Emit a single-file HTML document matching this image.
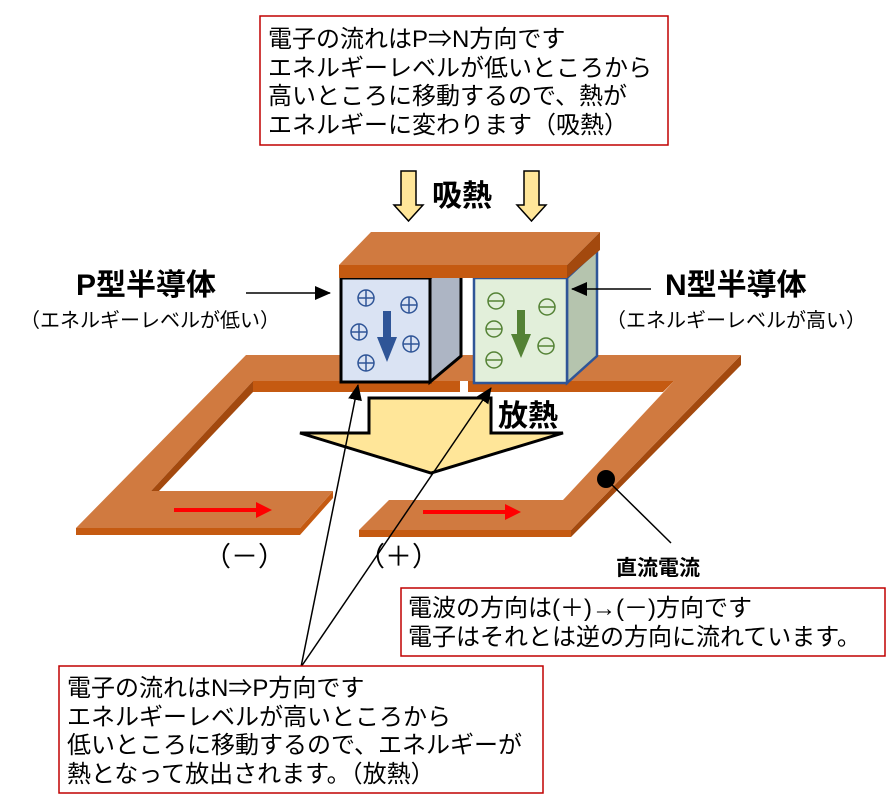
<!DOCTYPE html>
<html><head><meta charset="utf-8"><style>
body{margin:0;background:#fff;}
svg{display:block;}
text{font-family:"Liberation Sans","Noto Sans CJK JP",sans-serif;}
</style></head><body>
<svg width="892" height="808" viewBox="0 0 892 808" xmlns="http://www.w3.org/2000/svg">
<defs>
<marker id="ahb" markerWidth="16" markerHeight="14" refX="15" refY="7" orient="auto" markerUnits="userSpaceOnUse">
<path d="M0,0 L16,7 L0,14 z" fill="#000"/></marker>
</defs>
<!-- left frame -->
<polygon points="76,528 76,535 300,535 333,498 333,491 300,528" fill="#C55A11"/>
<polygon points="246,355 460,355 460,381 253,381 151,491 333,491 300,528 76,528" fill="#D07A40"/>
<polygon points="253,381 460,381 460,392 253,392" fill="#C55A11"/>
<polygon points="253,381 253,392 159,491 151,491" fill="#A3490E"/>
<!-- right frame -->
<polygon points="741,355 741,365 571,537 571,530" fill="#A3490E"/>
<polygon points="359,530 571,530 571,537 359,537" fill="#C55A11"/>
<polygon points="460,355 741,355 571,530 359,530 389,500 563,500 674,381 460,381" fill="#D07A40"/>
<polygon points="468,381 674,381 663,392 468,392" fill="#C55A11"/>
<!-- P block -->
<polygon points="430,278 461,250 461,356 430,382" fill="#ADB5C4" stroke="#000" stroke-width="3"/>
<rect x="341" y="278" width="89" height="104" fill="#DAE3F3" stroke="#000" stroke-width="3"/>
<!-- N block -->
<polygon points="567,278 597,250 597,356 567,383" fill="#B5C4AE" stroke="#2F5597" stroke-width="2.5"/>
<rect x="474" y="278" width="93" height="105" fill="#E2EFDA" stroke="#2F5597" stroke-width="2.5"/>
<!-- top plate -->
<polygon points="339,265 371,232 600,232 567,265" fill="#D07A40"/>
<rect x="339" y="265" width="228" height="13" fill="#C55A11"/>
<polygon points="567,265 600,232 600,250 567,278" fill="#A3490E"/>
<!-- plus circles -->
<g fill="none" stroke="#2F5597" stroke-width="1.5">
<circle cx="366" cy="298" r="8"/><path d="M358,298h16M366,290v16"/>
<circle cx="409" cy="305" r="8"/><path d="M401,305h16M409,297v16"/>
<circle cx="359" cy="332" r="8"/><path d="M351,332h16M359,324v16"/>
<circle cx="411" cy="344" r="8"/><path d="M403,344h16M411,336v16"/>
<circle cx="366" cy="363" r="8"/><path d="M358,363h16M366,355v16"/>
</g>
<g fill="none" stroke="#548235" stroke-width="1.5">
<circle cx="496" cy="301" r="8"/><path d="M488,301h16"/>
<circle cx="547" cy="307" r="8"/><path d="M539,307h16"/>
<circle cx="494" cy="329" r="8"/><path d="M486,329h16"/>
<circle cx="546" cy="346" r="8"/><path d="M538,346h16"/>
<circle cx="494" cy="360" r="8"/><path d="M486,360h16"/>
</g>
<polygon points="383,311 391,311 391,337 397,337 387,362 377,337 383,337" fill="#2F5597"/>
<polygon points="517,310 525,310 525,334 531,334 521,358 511,334 517,334" fill="#548235"/>
<!-- absorb arrows -->
<polygon points="401,171 416,171 416,205 423,205 408.5,221 394,205 401,205" fill="#FFE699" stroke="#000" stroke-width="1.5"/>
<polygon points="524,171 539,171 539,205 546,205 531.5,221 517,205 524,205" fill="#FFE699" stroke="#000" stroke-width="1.5"/>
<text x="432" y="206" font-size="30" font-weight="bold">吸熱</text>
<!-- big down arrow -->
<polygon points="369,398 491,398 491,433 563,433 431,473 300,433 369,433" fill="#FFE699" stroke="#000" stroke-width="3"/>
<text x="498" y="426" font-size="30" font-weight="bold">放熱</text>
<!-- red arrows -->
<line x1="174" y1="510" x2="258" y2="510" stroke="#f00" stroke-width="4"/>
<polygon points="256,502 272,510 256,518" fill="#f00"/>
<line x1="423" y1="512" x2="507" y2="512" stroke="#f00" stroke-width="4"/>
<polygon points="505,504 521,512 505,520" fill="#f00"/>
<!-- labels -->
<text x="76" y="295" font-size="30" font-weight="bold">P型半導体</text>
<text x="20" y="327" font-size="20">（エネルギーレベルが低い）</text>
<text x="665" y="295" font-size="30" font-weight="bold">N型半導体</text>
<text x="606" y="327" font-size="20">（エネルギーレベルが高い）</text>
<line x1="246" y1="293" x2="330" y2="293" stroke="#000" stroke-width="1.5" marker-end="url(#ahb)"/>
<line x1="651" y1="289" x2="572" y2="289" stroke="#000" stroke-width="1.5" marker-end="url(#ahb)"/>
<text x="204" y="566" font-size="27">（－）</text>
<text x="358" y="566" font-size="27">（＋）</text>
<text x="616" y="575" font-size="21" font-weight="bold">直流電流</text>
<circle cx="606" cy="479" r="9" fill="#000"/>
<line x1="606" y1="479" x2="671" y2="543" stroke="#000" stroke-width="1.5"/>
<line x1="301" y1="667" x2="358" y2="385" stroke="#000" stroke-width="1.5" marker-end="url(#ahb)"/>
<line x1="301" y1="667" x2="491" y2="388" stroke="#000" stroke-width="1.5" marker-end="url(#ahb)"/>
<!-- boxes -->
<rect x="260" y="16" width="408" height="129" fill="#fff" stroke="#C00000" stroke-width="1.5"/>
<g font-size="24">
<text x="268" y="47">電子の流れはP⇒N方向です</text>
<text x="268" y="76">エネルギーレベルが低いところから</text>
<text x="268" y="104">高いところに移動するので、熱が</text>
<text x="268" y="133">エネルギーに変わります（吸熱）</text>
</g>
<rect x="401" y="588" width="484" height="68" fill="#fff" stroke="#C00000" stroke-width="1.5"/>
<g font-size="24">
<text x="408" y="616">電波の方向は(＋)→(－)方向です</text>
<text x="408" y="645">電子はそれとは逆の方向に流れています。</text>
</g>
<rect x="59" y="666" width="484" height="127" fill="#fff" stroke="#C00000" stroke-width="1.5"/>
<g font-size="24">
<text x="67" y="696">電子の流れはN⇒P方向です</text>
<text x="67" y="725">エネルギーレベルが高いところから</text>
<text x="67" y="753">低いところに移動するので、エネルギーが</text>
<text x="67" y="782">熱となって放出されます。（放熱）</text>
</g>
</svg>
</body></html>
